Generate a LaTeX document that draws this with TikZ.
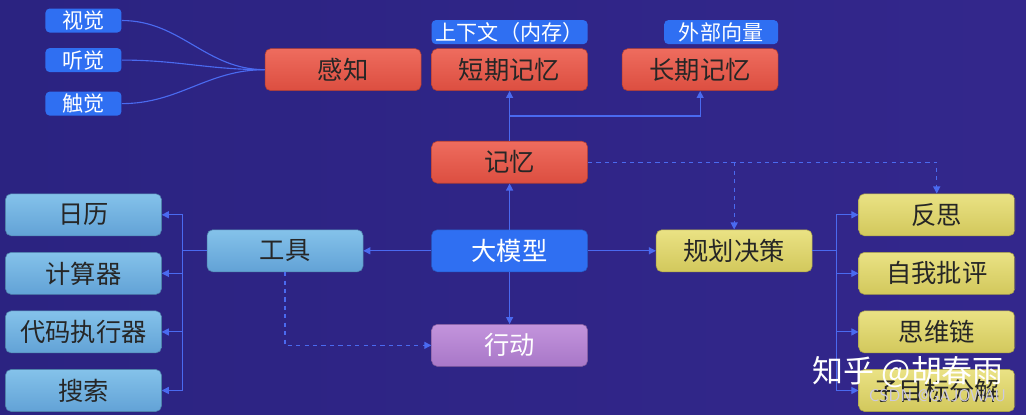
\documentclass[tikz,border=0pt]{standalone}
\usepackage{fontspec}
\newfontfamily\cjk{Noto Sans CJK SC}
\usepackage{tikz}
\usetikzlibrary{arrows.meta, positioning, calc, backgrounds}
\definecolor{bgleft}{HTML}{2B2381}
\definecolor{bgright}{HTML}{33278C}
\definecolor{linkblue}{HTML}{4A6AF0}
\definecolor{llmblue}{HTML}{2F6FF2}
\definecolor{memred}{HTML}{EE6C5E}
\definecolor{memdark}{HTML}{DC4E40}
\definecolor{toolblue}{HTML}{84C2EA}
\definecolor{tooldark}{HTML}{62A2D6}
\definecolor{planyellow}{HTML}{EAE284}
\definecolor{plandark}{HTML}{D2C85C}
\definecolor{actpurple}{HTML}{C394DC}
\definecolor{actdark}{HTML}{A877C8}

\begin{document}
\begin{tikzpicture}[
  box/.style={rounded corners=4pt, minimum width=3.9cm, minimum height=1.05cm,
              inner sep=0pt, font=\cjk\fontsize{18}{20}\selectfont, text centered},
  mem/.style={box, top color=memred, bottom color=memdark, draw=memdark!80!black, text=black!85},
  tool/.style={box, top color=toolblue, bottom color=tooldark, draw=tooldark!80!black, text=black!85},
  plan/.style={box, top color=planyellow, bottom color=plandark, draw=plandark!80!black, text=black!85},
  act/.style={box, top color=actpurple, bottom color=actdark, draw=actdark!80!black, text=white},
  core/.style={box, fill=llmblue, draw=llmblue!80!black, text=white},
  tag/.style={rounded corners=3pt, fill=llmblue, text=white, inner sep=0pt,
              minimum height=0.6cm, font=\cjk\fontsize{15}{17}\selectfont},
  sense/.style={tag, minimum width=1.9cm},
  arrow/.style={-{Triangle[length=5pt, width=5pt]}, line width=0.8pt, color=linkblue},
  dasharrow/.style={arrow, dashed},
  link/.style={line width=0.8pt, color=linkblue}
]

% Background
\shade[left color=bgleft, right color=bgright] (0,0) rectangle (25.65,10.35);
\useasboundingbox (0,0) rectangle (25.65,10.35);

% Core
\node[core] (llm) at (12.74,4.08) {大模型};

% Memory
\node[mem, above=1.15cm of llm] (memory) {记忆};
\node[mem, above=1.25cm of memory] (stm) {短期记忆};
\node[mem, right=0.85cm of stm] (ltm) {长期记忆};
\node[tag, minimum width=3.9cm, above=0.1cm of stm] (ctx) {上下文（内存）};
\node[tag, minimum width=2.85cm, above=0.1cm of ltm.north east, anchor=south east] (vec) {外部向量};

% Perception
\node[mem, left=0.25cm of stm] (percep) {感知};
\node[sense, left=3.575cm of percep, yshift=0.24cm] (hear) {听觉};
\node[sense, above=0.375cm of hear] (see) {视觉};
\node[sense, below=0.475cm of hear] (touch) {触觉};

% Tools
\node[tool, left=1.7cm of llm] (tools) {工具};
\node[tool, left=1.125cm of tools, yshift=0.9cm] (cal) {日历};
\node[tool, below=0.4cm of cal] (calc) {计算器};
\node[tool, below=0.4cm of calc] (code) {代码执行器};
\node[tool, below=0.4cm of code] (search) {搜索};

% Action
\node[act, below=1.3cm of llm] (action) {行动};

% Planning
\node[plan, right=1.7cm of llm] (planning) {规划决策};
\node[plan, right=1.15cm of planning, yshift=0.9cm] (reflect) {反思};
\node[plan, below=0.4cm of reflect] (critic) {自我批评};
\node[plan, below=0.4cm of critic] (cot) {思维链};
\node[plan, below=0.4cm of cot] (subgoal) {子目标分解};

% Arrows - core
\draw[arrow] (llm) -- (memory);
\draw[arrow] (llm) -- (action);
\draw[arrow] (llm) -- (tools);
\draw[arrow] (llm) -- (planning);

% Arrows - memory
\draw[arrow] (memory) -- (stm);
\draw[arrow] ($(memory.north)!0.5!(stm.south)$) -| (ltm.south);
\draw[dasharrow] (memory.east) -| (reflect.north);
\draw[dasharrow] (memory.east -| planning.north) -- (planning.north);

% Senses
\draw[link] (see.east) to[out=0, in=180] (percep.west);
\draw[link] (hear.east) to[out=0, in=180] (percep.west);
\draw[link] (touch.east) to[out=0, in=180] (percep.west);

% Tool bus
\coordinate (tbus) at ($(tools.west)+(-0.6,0)$);
\draw[link] (tools.west) -- (tbus);
\foreach \t in {cal, calc, code, search}
  \draw[arrow] (tbus) |- (\t.east);
\draw[dasharrow] (tools.south) |- (action.west);

% Planning bus
\coordinate (pbus) at ($(planning.east)+(0.6,0)$);
\draw[link] (planning.east) -- (pbus);
\foreach \p in {reflect, critic, cot, subgoal}
  \draw[arrow] (pbus) |- (\p.west);

% Watermarks
\node[font=\cjk\fontsize{22}{24}\selectfont, text=white, anchor=west] (zh) at (20.2,1.05) {知乎 @胡春雨};
\node[font=\sffamily\fontsize{12}{14}\selectfont, text=white!75!bgright, anchor=west] (csdn) at (21.6,0.45) {CSDN @GAJOWAU};

\end{tikzpicture}
\end{document}
